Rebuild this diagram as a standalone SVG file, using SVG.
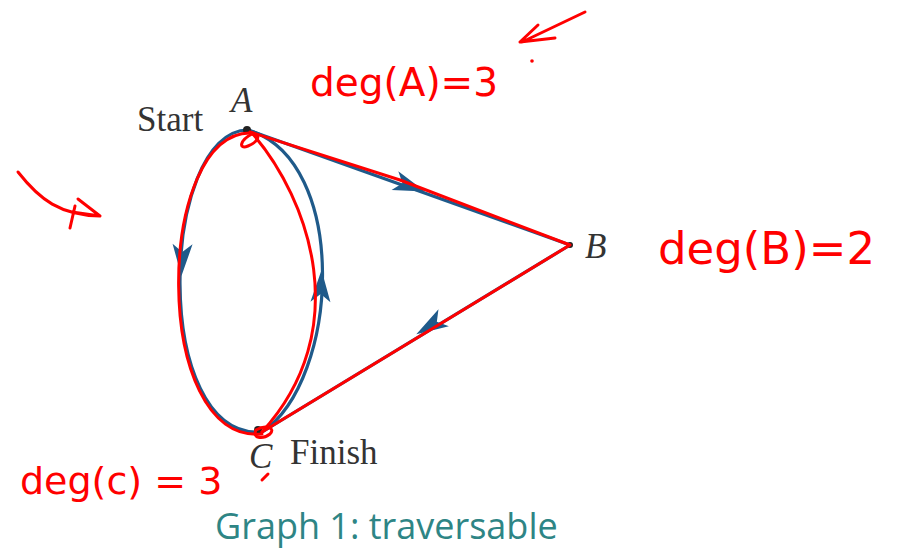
<svg xmlns="http://www.w3.org/2000/svg" width="918" height="550" viewBox="0 0 918 550">
<style>
.edge{fill:none;stroke:#1f5a8a;stroke-width:3.2}
.ink{fill:none;stroke:#ff0000;stroke-width:3;stroke-linecap:round;stroke-linejoin:round}
.lbl{font-family:"Liberation Serif",serif;fill:#333;font-size:35px}
.it{font-style:italic}
.hand{font-family:"DejaVu Sans",sans-serif;fill:#ff0000}
.cap{font-family:"Open Sans",sans-serif;fill:#2e8585;font-size:36px}
.ah{fill:#1f5a8a}
</style>
<defs>
<path id="arr" d="M16,0 L-16,-10 L-8,0 L-16,10 Z"/>
</defs>
<rect width="918" height="550" fill="#fff"/>
<g id="connectors">
<path class="edge" d="M248,130 C160,130 150,440 262,432"/>
<path class="edge" d="M248,130 C350,160 340,380 262,432"/>
<path class="edge" d="M248,130 L570,245"/>
<path class="edge" d="M570,245 L262,432"/>
<use href="#arr" class="ah" transform="translate(182,260) rotate(92)"/>
<use href="#arr" class="ah" transform="translate(321,286) rotate(-88)"/>
<use href="#arr" class="ah" transform="translate(410,186) rotate(19.7)"/>
<use href="#arr" class="ah" transform="translate(430,326) rotate(148.7)"/>
</g>
<g id="node-A">
<circle cx="247" cy="130" r="4" fill="#222"/>
<text class="lbl" x="137" y="131">Start</text>
<text class="lbl it" x="231" y="112">A</text>
</g>
<g id="node-B">
<circle cx="570" cy="245" r="3" fill="#222"/>
<text class="lbl it" x="585" y="258">B</text>
</g>
<g id="node-C">
<circle cx="258" cy="430" r="4" fill="#222"/>
<text class="lbl it" x="249" y="468">C</text>
<text class="lbl" x="290" y="464">Finish</text>
</g>
<g id="annotations">
<path class="ink" d="M262,434 C150,445 155,128 252,133"/>
<path class="ink" d="M252,133 C310,200 355,330 262,432"/>
<path class="ink" d="M250,132 L400,180 L570,245 L262,432"/>
<path class="ink" d="M252,134 C240,140 238,150 248,146 C258,142 262,134 252,134"/>
<path class="ink" d="M256,430 C252,438 262,440 270,434 C276,428 266,424 256,430"/>
<path class="ink" d="M268,474 L262,480"/>
<path class="ink" d="M585,12 L522,42 M520,42 L538,25 M520,42 L555,38"/>
<circle cx="532" cy="61" r="1.8" fill="#ff0000"/>
<path class="ink" d="M18,172 C40,200 60,215 100,216 M100,216 L78,199 M100,216 L72,212 M75,206 L70,228"/>
<text class="hand" x="310" y="96" font-size="39">deg(A)=3</text>
<text class="hand" x="658" y="264" font-size="45">deg(B)=2</text>
<text class="hand" x="20" y="494" font-size="38">deg(c) = 3</text>
<text class="cap" x="215" y="539">Graph 1: traversable</text>
</g>
</svg>
